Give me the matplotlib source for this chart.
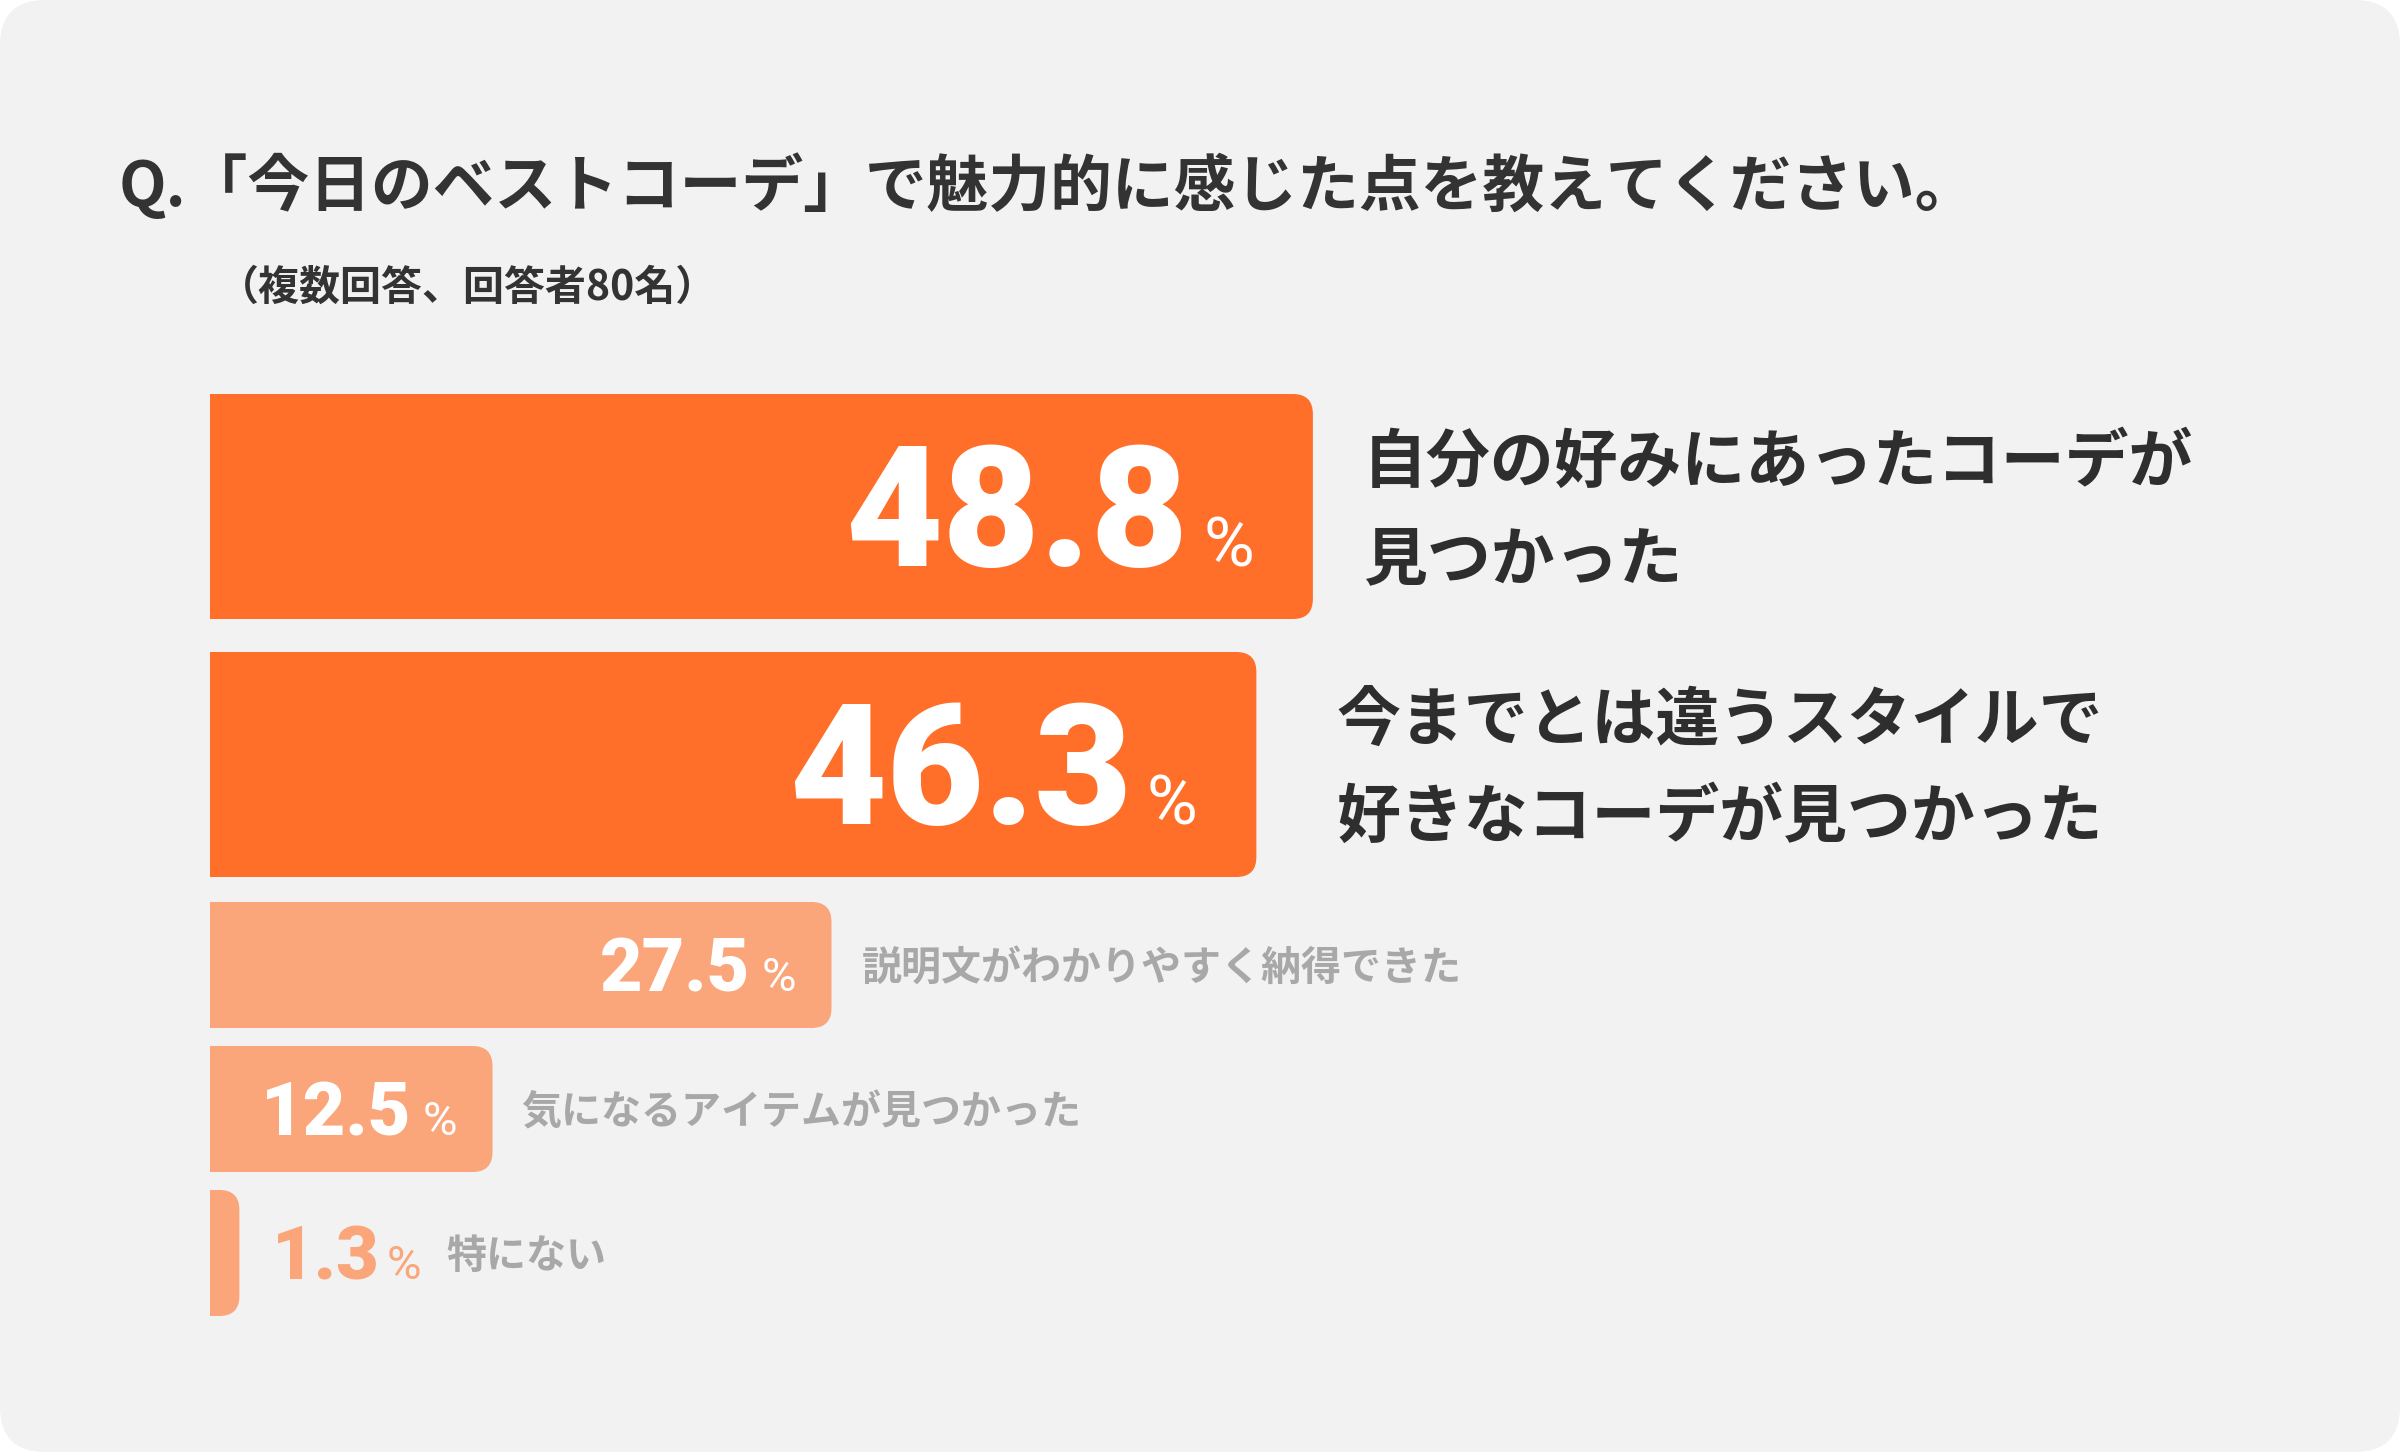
import matplotlib
matplotlib.use("Agg")
import matplotlib.pyplot as plt
from matplotlib.patches import FancyBboxPatch, PathPatch
from matplotlib.path import Path

# データ
labels = [
    "自分の好みにあったコーデが\n見つかった",
    "今までとは違うスタイルで\n好きなコーデが見つかった",
    "説明文がわかりやすく納得できた",
    "気になるアイテムが見つかった",
    "特にない",
]
values = [48.8, 46.3, 27.5, 12.5, 1.3]
title = "Q.「今日のベストコーデ」で魅力的に感じた点を教えてください。"
subtitle = "（複数回答、回答者80名）"

# レイアウト (px)
W, H = 2400, 1452
x0_px = 210
px_per_pct = 22.6
row_top = [394, 652, 902, 1046, 1190]
row_h = [225, 225, 126, 126, 126]
label_gap = [50, 80, 30, 29, 26]
n_top = 2
radius = 20

orange = "#FF6F29"
light = "#FAA57A"
dark = "#2E2E2E"
gray = "#A8A8A8"

jp = ["Noto Sans CJK JP", "DejaVu Sans"]
num_font = ["Roboto", "DejaVu Sans"]

fig = plt.figure(figsize=(W / 100, H / 100), dpi=100)
fig.patch.set_facecolor("white")

# 背景カード
bg = fig.add_axes([0, 0, 1, 1])
bg.set_xlim(0, W)
bg.set_ylim(0, H)
bg.axis("off")
bg.add_patch(FancyBboxPatch((0, 0), W, H, boxstyle="round,pad=0,rounding_size=45",
                            facecolor="#F2F2F2", edgecolor="none"))

ax = fig.add_axes([0, 0, 1, 1])
ax.set_xlim(-x0_px / px_per_pct, (W - x0_px) / px_per_pct)
ax.set_ylim(H, 0)
ax.axis("off")
ax.patch.set_alpha(0)


def bar_right_round(ax, v, top, h, color):
    rx = min(radius / px_per_pct, v)
    ry = radius
    bot = top + h
    verts = [(0, top), (v - rx, top), (v, top), (v, top + ry),
             (v, bot - ry), (v, bot), (v - rx, bot), (0, bot), (0, top)]
    codes = [Path.MOVETO, Path.LINETO, Path.CURVE3, Path.CURVE3,
             Path.LINETO, Path.CURVE3, Path.CURVE3, Path.LINETO, Path.CLOSEPOLY]
    ax.add_patch(PathPatch(Path(verts, codes), facecolor=color, edgecolor="none"))


# タイトル
ax.text(-x0_px / px_per_pct + 119 / px_per_pct, 206, title, fontsize=44.5, fontweight="bold",
        color="#333333", family=jp, ha="left", va="baseline")
ax.text(-x0_px / px_per_pct + 218 / px_per_pct, 300, subtitle, fontsize=29.5, fontweight="bold",
        color="#333333", family=jp, ha="left", va="baseline")

for i, (lab, v) in enumerate(zip(labels, values)):
    big = i < n_top
    color = orange if big else light
    top, h = row_top[i], row_h[i]
    yc = top + h / 2
    bar_right_round(ax, v, top, h, color)

    num_size = 121 if big else 53
    pct_size = 50 if big else 34
    base = yc + num_size * 100 / 72 * 0.711 / 2
    inside = v > 5

    if inside:
        pct = ax.annotate("%", xy=(v, base), xytext=(-59 if big else -35, 0),
                          textcoords="offset pixels", ha="right", va="baseline",
                          fontsize=pct_size, family=num_font, color="white")
        ax.annotate("%.1f" % v, xy=(0, base), xycoords=(pct, "data"),
                    xytext=(-15 if big else -12, 0), textcoords="offset pixels",
                    ha="right", va="baseline", fontsize=num_size, fontweight="heavy",
                    family=num_font, color="white")
        anchor_x = v
        lab_coords = "data"
    else:
        num = ax.annotate("%.1f" % v, xy=(v, base), xytext=(33, 0),
                          textcoords="offset pixels", ha="left", va="baseline",
                          fontsize=num_size, fontweight="heavy", family=num_font, color=light)
        pct = ax.annotate("%", xy=(1, base), xycoords=(num, "data"), xytext=(6, 0),
                          textcoords="offset pixels", ha="left", va="baseline",
                          fontsize=pct_size, family=num_font, color=light)
        anchor_x = 1
        lab_coords = (pct, "data")
    lab_off = label_gap[i]

    if big:
        fs = 46
        em = fs * 100 / 72
        lines = lab.split("\n")
        for k, line in enumerate(lines):
            yl = yc + (k - (len(lines) - 1) / 2) * 97 + 0.38 * em
            ax.annotate(line, xy=(anchor_x, yl), xycoords=lab_coords, xytext=(lab_off, 0),
                        textcoords="offset pixels", ha="left", va="baseline",
                        fontsize=fs, fontweight="bold", family=jp, color=dark)
    else:
        fs = 28.8
        em = fs * 100 / 72
        ax.annotate(lab, xy=(anchor_x, yc + 0.38 * em), xycoords=lab_coords,
                    xytext=(lab_off, 0), textcoords="offset pixels", ha="left",
                    va="baseline", fontsize=fs, fontweight="bold", family=jp, color=gray)

fig.savefig("out.png", dpi=100, facecolor=fig.get_facecolor())
